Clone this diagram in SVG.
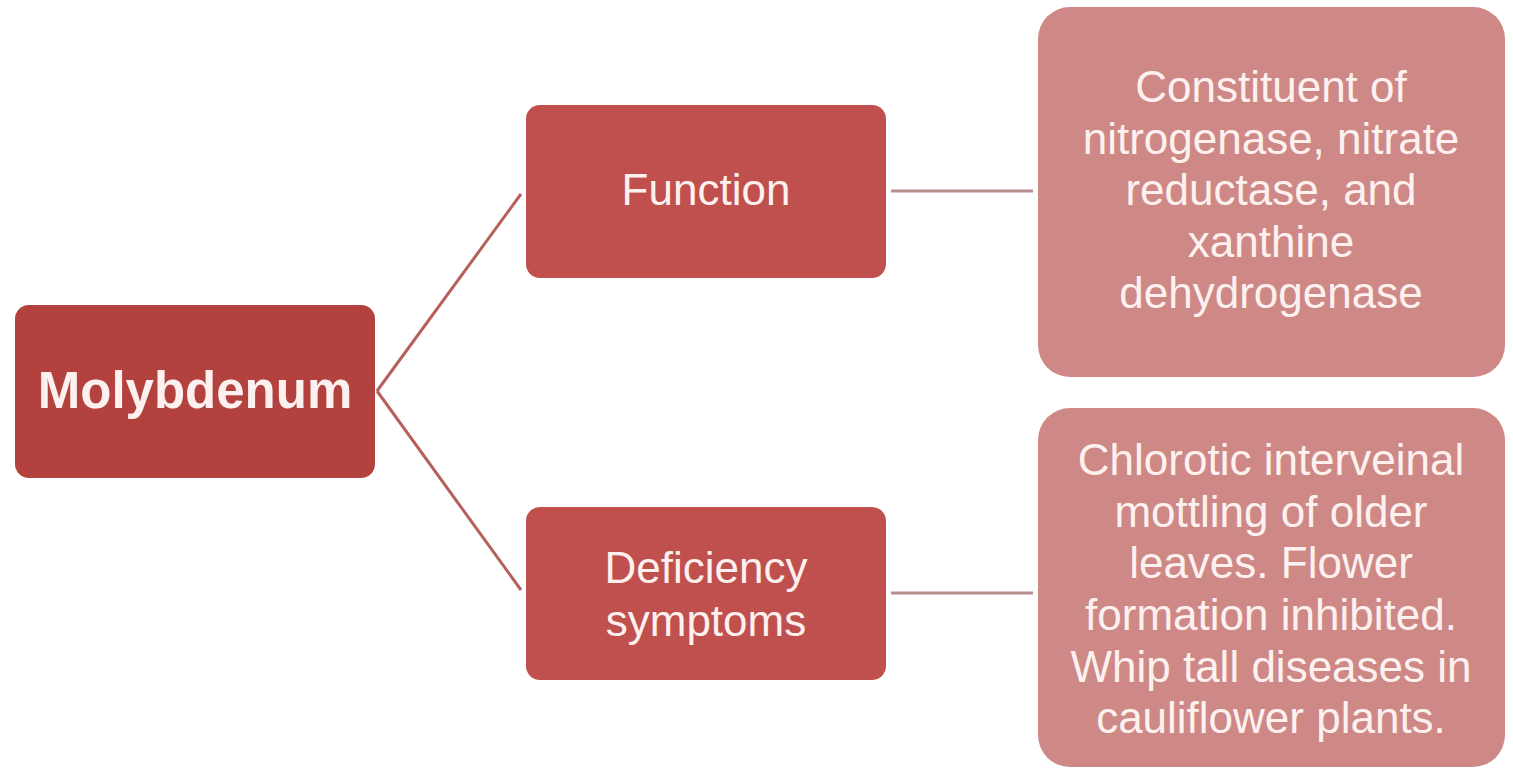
<svg xmlns="http://www.w3.org/2000/svg" width="1513" height="776" viewBox="0 0 1513 776">
  <style>
    .root { fill: #b3423f; }
    .mid { fill: #c0504d; }
    .leaf { fill: #ce8987; }
    .label { font-family: "Liberation Sans", Arial, sans-serif; font-size: 44px; fill: #fdf1f0; text-anchor: middle; }
    .bold { font-weight: bold; font-size: 51px; }
    .diag { stroke: #b5605d; stroke-width: 3; fill: none; }
    .flat { stroke: #b98f8e; stroke-width: 3; fill: none; }
  </style>
  <rect width="1513" height="776" fill="#ffffff"/>

  <g id="connectors">
    <line class="diag" x1="377" y1="391" x2="521" y2="194"/>
    <line class="diag" x1="377" y1="391" x2="521" y2="590"/>
    <line class="flat" x1="891" y1="191" x2="1033" y2="191"/>
    <line class="flat" x1="891" y1="593" x2="1033" y2="593"/>
  </g>

  <g id="molybdenum">
    <rect class="root" x="15" y="305" width="360" height="173" rx="14"/>
    <text class="label bold" x="195" y="408">Molybdenum</text>
  </g>

  <g id="function">
    <rect class="mid" x="526" y="105" width="360" height="173" rx="14"/>
    <text class="label" x="706" y="205">Function</text>
  </g>

  <g id="deficiency">
    <rect class="mid" x="526" y="507" width="360" height="173" rx="14"/>
    <text class="label" x="706" y="583">Deficiency</text>
    <text class="label" x="706" y="636">symptoms</text>
  </g>

  <g id="function-detail">
    <rect class="leaf" x="1038" y="7" width="467" height="370" rx="32"/>
    <text class="label" x="1271" y="102">Constituent of</text>
    <text class="label" x="1271" y="154">nitrogenase, nitrate</text>
    <text class="label" x="1271" y="205">reductase, and</text>
    <text class="label" x="1271" y="257">xanthine</text>
    <text class="label" x="1271" y="308">dehydrogenase</text>
  </g>

  <g id="deficiency-detail">
    <rect class="leaf" x="1038" y="408" width="467" height="359" rx="32"/>
    <text class="label" x="1271" y="475">Chlorotic interveinal</text>
    <text class="label" x="1271" y="527">mottling of older</text>
    <text class="label" x="1271" y="578">leaves. Flower</text>
    <text class="label" x="1271" y="630">formation inhibited.</text>
    <text class="label" x="1271" y="682">Whip tall diseases in</text>
    <text class="label" x="1271" y="733">cauliflower plants.</text>
  </g>
</svg>
